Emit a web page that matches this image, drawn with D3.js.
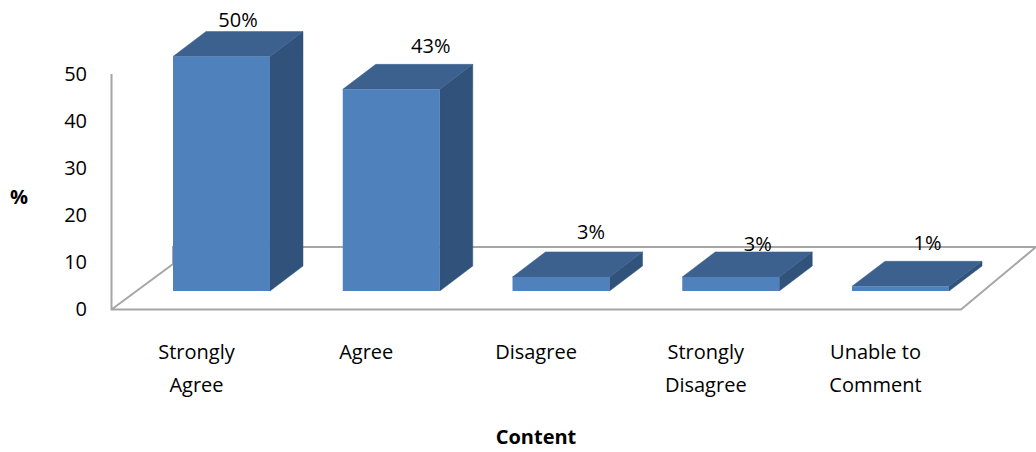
<!DOCTYPE html>
<html>
<head>
<meta charset="utf-8">
<script src="https://cdn.jsdelivr.net/npm/d3@7/dist/d3.min.js"></script>
<style>
html,body{margin:0;padding:0;background:#fff;overflow:hidden}
svg{display:block}
text{font-family:"Open Sans",sans-serif;fill:#000}
</style>
</head>
<body>
<svg id="c" width="1036" height="452"></svg>
<script>
const categories = [["Strongly","Agree"],["Agree"],["Disagree"],["Strongly","Disagree"],["Unable to","Comment"]];
const values = [50,43,3,3,1];
const valueLabels = ["50%","43%","3%","3%","1%"];
const yTicks = [0,10,20,30,40,50];
const labelDx = [16.5,39.5,30,27,27];
const labelDy = [-36.5,-43,-45,-33,-43];

const W = 1036, H = 452;
const depthX = 33, depthY = 25;
const svg = d3.select("#c");
const names = categories.map(c => c.join(" "));

const x = d3.scaleBand().domain(names).range([173,949]).paddingInner(0.4287);
const y = d3.scaleLinear().domain([0,50]).range([291,56.5]);
const yAxisScale = d3.scaleLinear().domain([0,50]).range([309.5,74]);

// walls / floor
const wall = svg.append("g").attr("fill","none").attr("stroke","#a6a6a6").attr("stroke-width",2);
wall.append("path").attr("d","M111.5,74V309.5H961L1036,247H173L111.5,309.5".replace("L173","L173"));
svg.select("g path").attr("d","M111.5,74V309.5H961L1036,247H173V264L111.5,309.5");

// y axis
const ya = svg.append("g").attr("transform","translate(87,0)")
  .call(d3.axisLeft(yAxisScale).tickValues(yTicks).tickSize(0).tickPadding(0));
ya.select(".domain").remove();
ya.selectAll("text").attr("font-size",20).attr("text-anchor","end")
  .style("font-family",'"Open Sans",sans-serif').attr("fill","#000");

// bars
const bars = svg.append("g").selectAll("g").data(values).join("g");
const bw = x.bandwidth();
const bx = (d,i) => x(names[i]);
bars.append("path").attr("fill","#31527a").attr("stroke","#31527a").attr("stroke-width",.5)
  .attr("d",(d,i)=>{const l=bx(d,i)+bw,t=y(d),b=y(0);
    return `M${l},${t}l${depthX},${-depthY}V${b-depthY}L${l},${b}Z`;});
bars.append("path").attr("fill","#3c618f").attr("stroke","#3c618f").attr("stroke-width",.5)
  .attr("d",(d,i)=>{const l=bx(d,i),t=y(d);
    return `M${l},${t}l${depthX},${-depthY}h${bw}l${-depthX},${depthY}Z`;});
bars.append("rect").attr("fill","#4f81bd")
  .attr("x",(d,i)=>bx(d,i)).attr("y",d=>y(d)).attr("width",bw).attr("height",d=>y(0)-y(d));

// value labels
svg.append("g").selectAll("text").data(values).join("text")
  .attr("x",(d,i)=>bx(d,i)+bw/2+labelDx[i])
  .attr("y",(d,i)=>y(d)+labelDy[i])
  .attr("dy","0.35em").attr("text-anchor","middle").attr("font-size",20)
  .text((d,i)=>valueLabels[i]);

// category labels
const cat = svg.append("g").selectAll("text").data(categories).join("text")
  .attr("text-anchor","middle").attr("font-size",20)
  .attr("transform",(d,i)=>`translate(${x(names[i])+bw/2-25},0)`);
cat.selectAll("tspan").data(d=>d).join("tspan")
  .attr("x",0).attr("y",(d,i)=>352+i*33).attr("dy","0.35em").text(d=>d);

// axis titles
svg.append("text").attr("x",19).attr("y",197).attr("dy","0.35em").attr("text-anchor","middle")
  .attr("font-size",20).attr("font-weight","bold").text("%");
svg.append("text").attr("x",536).attr("y",437).attr("dy","0.35em").attr("text-anchor","middle")
  .attr("font-size",20).attr("font-weight","bold").text("Content");
</script>
</body>
</html>
